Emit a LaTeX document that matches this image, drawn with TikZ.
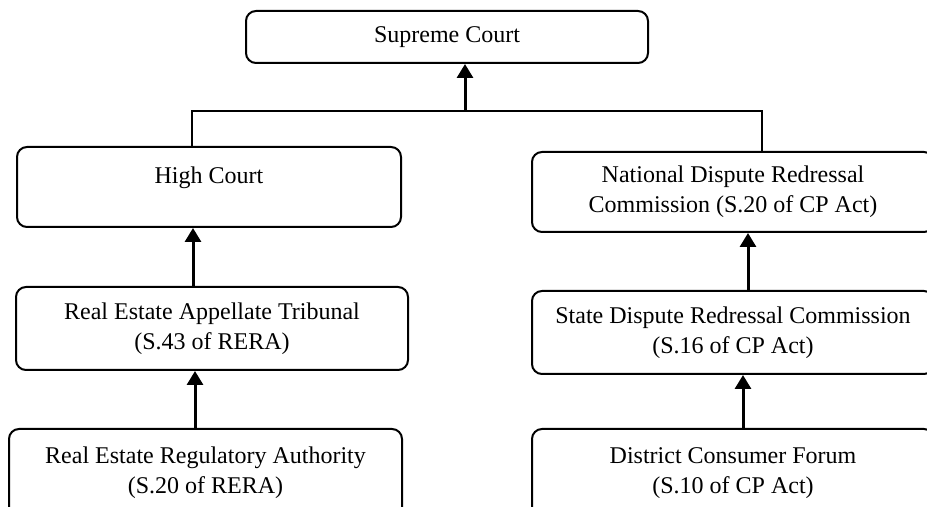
\documentclass[tikz,border=0pt]{standalone}
\usepackage{fontspec}
\setmainfont{Liberation Serif}
\usetikzlibrary{arrows.meta, positioning}
\tikzset{
    court/.style={
        rectangle,
        rounded corners=5pt,
        draw=black,
        line width=1pt,
        align=center,
        minimum width=196pt,
        minimum height=41.5pt,
        fill=white,
        font=\fontsize{12}{15}\selectfont
    },
    appeal/.style={
        draw=black,
        line width=1.5pt,
        -{Triangle[length=7pt,width=8pt]}
    },
    link/.style={
        draw=black,
        line width=0.8pt
    }
}

\begin{document}
\begin{tikzpicture}[x=0.5pt, y=-0.5pt, node distance=28.5pt]
\useasboundingbox (0,0) rectangle (927,507);

% Apex
\node[court, minimum width=201pt, minimum height=26pt] (sc) at (447,37) {Supreme Court};

% RERA line of appeal
\node[court, minimum width=192pt, minimum height=40pt, text depth=11.5pt] (hc) at (209,187) {High Court};
\node[court, below=29pt of hc, xshift=1.5pt] (reat) {Real Estate Appellate Tribunal\\(S.43 of RERA)};
\node[court, below=28.5pt of reat, xshift=-3.25pt, minimum width=196.5pt, minimum height=44pt] (rera) {Real Estate Regulatory Authority\\(S.20 of RERA)};

% Consumer line of appeal
\node[court, minimum width=201pt, minimum height=40pt] (ndrc) at (733,192) {National Dispute Redressal\\Commission (S.20 of CP Act)};
\node[court, below=28.5pt of ndrc, minimum width=201pt] (sdrc) {State Dispute Redressal Commission\\(S.16 of CP Act)};
\node[court, below=26.5pt of sdrc, minimum width=201pt, minimum height=44pt] (dcf) {District Consumer Forum\\(S.10 of CP Act)};

% Joining bar under the apex
\coordinate (bl) at (192,111);
\coordinate (br) at (762,111);
\coordinate (join) at (465,111);
\draw[link] (hc.north -| bl) -- (bl) -- (br) -- (ndrc.north -| br);
\draw[appeal] (join) -- (join |- sc.south);

% Appeals upwards
\coordinate (a1) at ([xshift=-9.5pt]reat.north);
\coordinate (a2) at ([xshift=-5.25pt]rera.north);
\coordinate (a3) at ([xshift=7.5pt]sdrc.north);
\coordinate (a4) at ([xshift=5pt]dcf.north);
\draw[appeal] (a1) -- (a1 |- hc.south);
\draw[appeal] (a2) -- (a2 |- reat.south);
\draw[appeal] (a3) -- (a3 |- ndrc.south);
\draw[appeal] (a4) -- (a4 |- sdrc.south);

\end{tikzpicture}
\end{document}
